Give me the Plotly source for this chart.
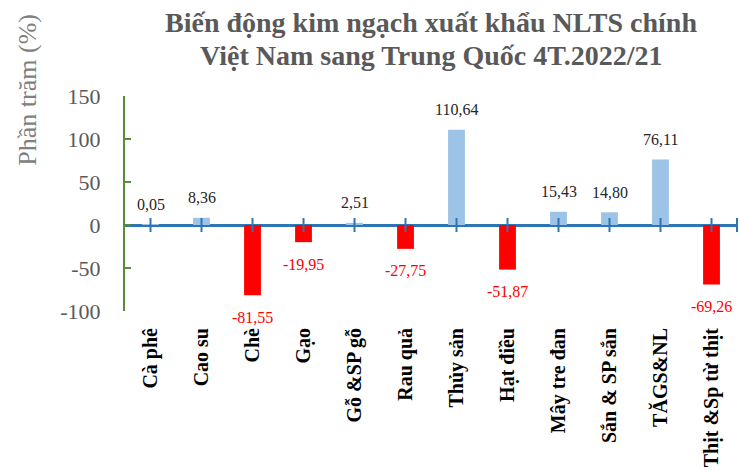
import plotly.graph_objects as go

categories = ["Cà phê", "Cao su", "Chè", "Gạo", "Gỗ &SP gỗ", "Rau quả", "Thủy sản",
              "Hạt điều", "Mây tre đan", "Sắn & SP sắn", "TĂGS&NL", "Thịt &Sp từ thịt"]
values = [0.05, 8.36, -81.55, -19.95, 2.51, -27.75, 110.64, -51.87, 15.43, 14.80, 76.11, -69.26]
value_labels = ["0,05", "8,36", "-81,55", "-19,95", "2,51", "-27,75", "110,64", "-51,87",
                "15,43", "14,80", "76,11", "-69,26"]
y_ticks = [-100, -50, 0, 50, 100, 150]
y_tick_labels = ["-100", "-50", "0", "50", "100", "150"]
title_lines = ["Biến động kim ngạch xuất khẩu NLTS chính", "Việt Nam sang Trung Quốc 4T.2022/21"]

FONT = "Liberation Serif"
POS_COLOR = "#9DC3E6"
NEG_COLOR = "#FF0000"
AXIS_BLUE = "#2E75B6"
AXIS_GREEN = "#5B8C3A"

idx = list(range(len(categories)))
colors = [POS_COLOR if v >= 0 else NEG_COLOR for v in values]

fig = go.Figure()
fig.add_trace(go.Bar(x=idx, y=values, width=0.33, marker=dict(color=colors, line=dict(width=0)),
                     hoverinfo="skip"))

# tick marks on the zero axis (category centers + right end)
tick_x = idx + [len(categories) - 0.5]
fig.add_trace(go.Scatter(x=tick_x, y=[0] * len(tick_x), mode="markers",
                         marker=dict(symbol="line-ns", size=10, line=dict(color=AXIS_BLUE, width=2)),
                         cliponaxis=False, hoverinfo="skip"))

for i, (v, lab) in enumerate(zip(values, value_labels)):
    fig.add_annotation(x=i, y=v, text=lab, showarrow=False, xref="x", yref="y",
                       yanchor="middle", yshift=20 if v >= 0 else -22,
                       font=dict(family=FONT, size=16, color="#262626" if v >= 0 else NEG_COLOR))

fig.add_annotation(text="Phần trăm (%)", textangle=-90, xref="paper", yref="paper",
                   x=-0.16, xanchor="center", y=1.03, yanchor="middle", showarrow=False,
                   font=dict(family=FONT, size=26, color="#808080"))

for k, line in enumerate(title_lines):
    fig.add_annotation(text="<b>%s</b>" % line, xref="paper", yref="paper", x=0.5, xanchor="center",
                       y=1.0, yanchor="middle", yshift=74 - 33 * k, showarrow=False,
                       font=dict(family=FONT, size=28, color="#595959"))

fig.update_layout(
    width=739, height=471,
    margin=dict(l=125, r=2, t=96, b=160),
    paper_bgcolor="white", plot_bgcolor="white",
    showlegend=False,
    xaxis=dict(range=[-0.5, len(categories) - 0.5], tickvals=idx,
               ticktext=["<b>%s</b>" % c for c in categories],
               tickangle=-90, showline=False, showgrid=False, zeroline=False, ticks="",
               ticklabelstandoff=12, automargin=False,
               tickfont=dict(family=FONT, size=20, color="#000000")),
    yaxis=dict(range=[-100, 150], tickvals=y_ticks, ticktext=y_tick_labels, showgrid=False,
               showline=True, linecolor=AXIS_GREEN, linewidth=2,
               ticks="inside", ticklen=6, tickcolor=AXIS_GREEN, tickwidth=2,
               zeroline=True, zerolinecolor=AXIS_BLUE, zerolinewidth=2.5,
               ticklabelstandoff=18, automargin=False,
               tickfont=dict(family=FONT, size=22, color="#595959")),
)

fig.write_html("out.html", config={"displayModeBar": False},
               post_script="document.body.style.margin='0';")
